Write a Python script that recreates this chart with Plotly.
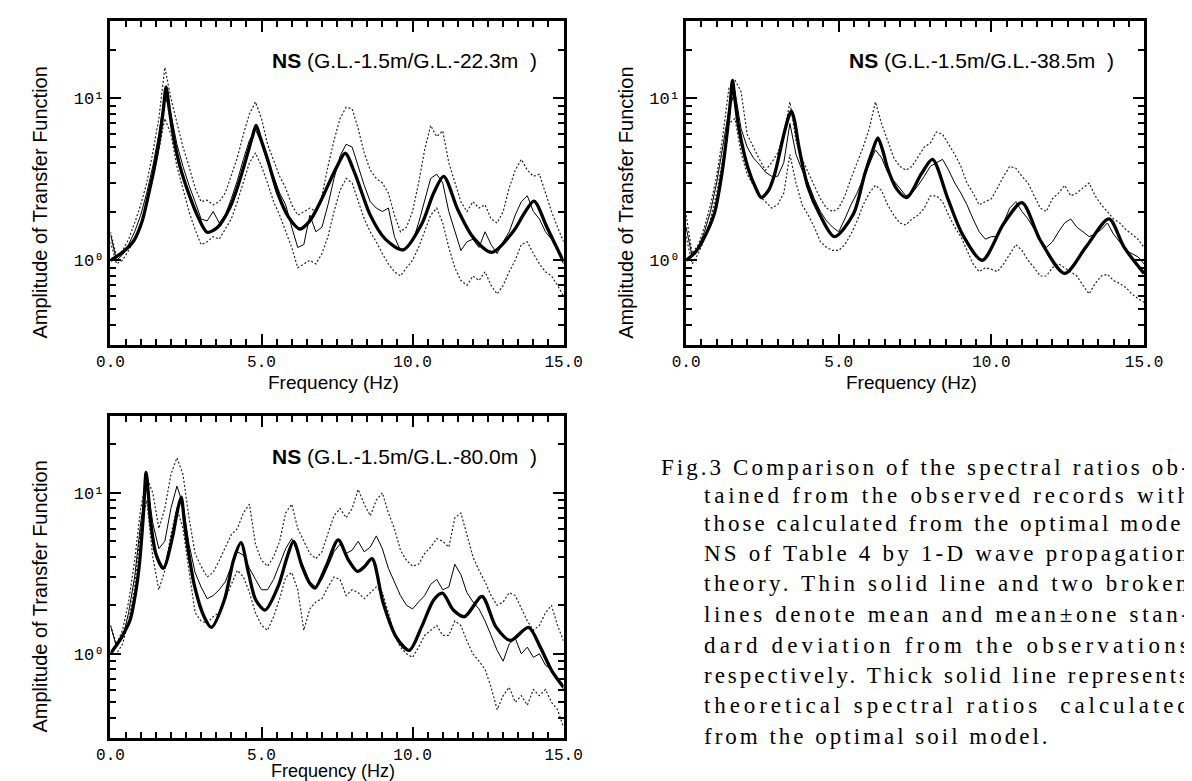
import plotly.graph_objects as go
import math

# ---------------- data ----------------
freq = [0.0, 0.2, 0.4, 0.6, 0.8, 1.0, 1.2, 1.4, 1.6, 1.8,
        2.0, 2.2, 2.4, 2.6, 2.8, 3.0, 3.2, 3.4, 3.6, 3.8,
        4.0, 4.2, 4.4, 4.6, 4.8, 5.0, 5.2, 5.4, 5.6, 5.8,
        6.0, 6.2, 6.4, 6.6, 6.8, 7.0, 7.2, 7.4, 7.6, 7.8,
        8.0, 8.2, 8.4, 8.6, 8.8, 9.0, 9.2, 9.4, 9.6, 9.8,
        10.0, 10.2, 10.4, 10.6, 10.8, 11.0, 11.2, 11.4, 11.6, 11.8,
        12.0, 12.2, 12.4, 12.6, 12.8, 13.0, 13.2, 13.4, 13.6, 13.8,
        14.0, 14.2, 14.4, 14.6, 14.8, 15.0]

# Panel 1: G.L.-1.5m / G.L.-22.3m
p1_mean = [1.45, 1.0, 1.08, 1.25, 1.5, 1.9, 2.6, 3.8, 6.0, 10.5,
           8.0, 5.2, 3.8, 2.9, 2.3, 1.8, 1.75, 2.0, 1.7, 1.9,
           2.4, 3.1, 4.2, 5.5, 6.4, 5.3, 4.0, 3.3, 2.6, 2.2,
           1.6, 1.2, 1.25, 1.9, 1.5, 1.6, 2.2, 3.2, 4.4, 5.2,
           5.0, 3.8, 2.9, 2.3, 2.1, 2.0, 2.1, 1.4, 1.15, 1.2,
           1.3, 1.7, 2.3, 3.2, 3.4, 3.0, 2.0, 1.5, 1.15, 1.3,
           1.35, 1.2, 1.5, 1.25, 1.1, 1.3, 1.5, 1.9, 2.3, 2.5,
           2.0, 1.8, 1.5, 1.35, 1.15, 0.95]
p1_hi = [1.5, 1.05, 1.15, 1.35, 1.7, 2.2, 3.0, 4.6, 7.5, 15.5,
         10.0, 7.0, 5.0, 3.8, 2.8, 2.3, 2.35, 2.2, 2.3, 2.6,
         3.3, 4.3, 6.0, 8.0, 9.5, 7.5, 5.2, 4.2, 3.3, 2.8,
         2.2, 1.9, 2.0, 2.1, 2.0, 2.5, 3.8, 5.5, 7.5, 8.8,
         8.6, 6.5, 4.6, 3.6, 3.2, 3.0, 2.6, 1.9, 1.5, 1.6,
         2.0, 3.0, 4.8, 6.8, 5.8, 6.3, 4.0, 3.0, 2.3, 2.0,
         2.3, 2.1, 2.2, 1.8, 1.7, 2.0, 2.8, 3.6, 4.2, 3.6,
         3.3, 3.4, 2.6, 2.0, 1.6, 1.3]
p1_lo = [1.3, 0.95, 1.0, 1.15, 1.35, 1.65, 2.2, 3.2, 4.8, 7.5,
         6.0, 3.8, 2.8, 2.0, 1.55, 1.25, 1.3, 1.4, 1.35, 1.55,
         1.8, 2.3, 3.0, 4.0, 4.6, 3.8, 3.0, 2.3, 1.9, 1.5,
         1.2, 0.9, 0.95, 1.0, 0.95, 1.1, 1.4, 2.0, 2.7, 3.2,
         3.0, 2.3, 1.8, 1.5, 1.3, 1.1, 0.95, 0.85, 0.8, 0.9,
         1.0, 1.2, 1.5, 1.9, 2.1, 1.7, 1.2, 0.9, 0.75, 0.7,
         0.8, 0.75, 0.85, 0.7, 0.62, 0.7, 0.85, 1.0, 1.25, 1.3,
         1.1, 0.95, 0.85, 0.8, 0.7, 0.6]
p1_theo_f = [0, 0.4, 0.77, 1.05, 1.26, 1.45, 1.6, 1.75, 1.84, 1.95,
             2.1, 2.3, 2.6, 2.9, 3.2, 3.55, 3.95, 4.25, 4.5, 4.7,
             4.82, 4.95, 5.2, 5.55, 5.9, 6.27, 6.6, 6.9, 7.2, 7.5,
             7.77, 8.1, 8.6, 9.1, 9.69, 10.3, 10.7, 11.03, 11.5, 12.0,
             12.62, 13.35, 13.7, 14.02, 14.45, 15.0]
p1_theo_a = [1.0, 1.12, 1.32, 1.75, 2.55, 3.7, 5.3, 8.5, 11.7, 8.5,
             5.6, 3.8, 2.55, 1.85, 1.49, 1.6, 2.11, 3.0, 4.3, 5.8,
             6.8, 5.8, 4.2, 2.55, 1.84, 1.56, 1.75, 2.2, 2.9, 3.8,
             4.58, 3.4, 1.9, 1.35, 1.16, 1.67, 2.6, 3.3, 2.05, 1.39,
             1.12, 1.52, 1.95, 2.32, 1.6, 0.98]

# Panel 2: G.L.-1.5m / G.L.-38.5m
p2_mean = [1.6, 1.05, 1.2, 1.5, 2.0, 3.0, 5.0, 8.5, 11.0, 6.5,
           5.0, 4.3, 3.9, 3.5, 3.3, 3.3, 4.0, 7.0, 4.5, 3.6,
           3.0, 2.4, 2.0, 1.75, 1.6, 1.5, 1.8, 2.2, 2.6, 3.2,
           3.9, 4.8, 4.3, 3.5, 3.1, 2.8, 2.5, 2.6, 2.9, 3.3,
           3.8, 4.0, 4.2, 3.6, 3.0, 2.6, 2.2, 1.8, 1.5, 1.35,
           1.4, 1.4, 1.7, 2.1, 2.3, 2.0, 1.8, 1.55, 1.35, 1.2,
           1.3, 1.5, 1.7, 1.8, 1.6, 1.5, 1.4, 1.45, 1.55, 1.7,
           1.45, 1.3, 1.15, 1.1, 1.05, 0.95]
p2_hi = [1.9, 1.1, 1.25, 1.6, 2.2, 3.3, 5.8, 11.5, 13.0, 11.0,
         6.0, 5.0, 4.2, 3.6, 4.0, 4.6, 6.0, 9.5, 5.5, 4.2,
         3.5, 2.9, 2.4, 2.1, 2.0, 2.1, 2.5, 3.2, 4.0, 5.0,
         6.5, 9.5, 7.0, 5.5, 4.3, 3.8, 3.6, 3.8, 4.4, 5.0,
         5.3, 6.2, 6.0, 5.2, 4.5, 3.8, 3.0, 2.6, 2.2, 2.3,
         2.4, 2.8, 3.3, 3.8, 3.7, 3.3, 3.0, 2.5, 2.1, 2.0,
         2.4, 2.6, 2.9, 2.5, 2.6, 2.8, 3.0, 2.5, 2.2, 2.0,
         1.8, 1.7, 1.55, 1.45, 1.35, 1.2]
p2_lo = [1.4, 0.95, 1.1, 1.35, 1.8, 2.6, 4.2, 7.0, 7.5, 4.6,
         3.4, 2.9, 2.5, 2.3, 2.1, 2.2, 2.6, 4.5, 3.0, 2.2,
         1.9, 1.6, 1.3, 1.2, 1.15, 1.15, 1.25, 1.45, 1.75, 2.2,
         2.6, 2.9, 2.7, 2.2, 1.9, 1.7, 1.65, 1.8, 1.9, 2.1,
         2.5, 2.5, 2.3, 1.9, 1.6, 1.4, 1.15, 0.95, 0.85, 0.9,
         0.88, 0.85, 0.95, 1.1, 1.25, 1.15, 1.0, 0.9, 0.8, 0.8,
         0.9, 0.95, 0.9, 0.85, 0.8, 0.7, 0.62, 0.72, 0.8, 0.82,
         0.75, 0.72, 0.68, 0.62, 0.58, 0.55]
p2_theo_f = [0, 0.3, 0.55, 0.92, 1.17, 1.36, 1.45, 1.52, 1.6, 1.73,
             2.03, 2.28, 2.46, 2.7, 2.9, 3.2, 3.35, 3.45, 3.55, 3.7,
             4.0, 4.37, 4.86, 5.48, 5.85, 6.1, 6.28, 6.45, 6.6, 6.9,
             7.23, 7.7, 8.07, 8.56, 9.05, 9.7, 10.4, 11.0, 11.6, 12.4,
             13.1, 13.85, 14.35, 15.0]
p2_theo_a = [1.0, 1.12, 1.33, 1.93, 3.4, 6.5, 9.5, 12.9, 9.8, 6.5,
             3.7, 2.8, 2.44, 2.7, 3.4, 5.96, 7.6, 8.36, 7.3, 4.94,
             2.8, 1.93, 1.4, 1.93, 3.4, 4.7, 5.7, 4.7, 3.7, 2.75,
             2.44, 3.4, 4.2, 2.44, 1.45, 1.0, 1.68, 2.27, 1.33, 0.83,
             1.21, 1.8, 1.2, 0.83]

# Panel 3: G.L.-1.5m / G.L.-80.0m
p3_mean = [1.5, 1.1, 1.25, 1.8, 3.0, 6.5, 12.0, 6.5, 4.5, 5.0,
           8.0, 11.0, 8.5, 4.8, 3.2, 2.6, 2.2, 2.3, 2.5, 2.8,
           3.5, 4.3, 4.1, 3.4, 2.9, 2.5, 2.5, 2.9, 3.6, 4.5,
           5.2, 4.2, 3.4, 2.8, 2.6, 2.9, 3.5, 4.3, 4.8, 4.2,
           4.4, 5.0, 4.3, 4.6, 5.4, 4.5, 3.4, 2.8, 2.3, 2.0,
           1.9, 2.1, 2.3, 2.7, 2.9, 2.5, 2.6, 3.6, 3.1, 2.4,
           2.1, 1.9, 1.6, 1.3, 1.05, 0.9, 1.15, 1.25, 1.0, 1.1,
           0.95, 1.0, 0.85, 0.8, 0.7, 0.6]
p3_hi = [1.5, 1.15, 1.4, 2.1, 3.8, 8.0, 12.5, 10.0, 6.0, 8.0,
         13.0, 16.5, 13.0, 7.0, 4.2, 3.5, 3.0, 3.2, 3.8, 4.6,
         5.5, 6.0, 7.5, 8.5, 4.8, 3.8, 3.5, 4.0, 5.0, 7.5,
         8.5, 6.0, 5.0, 4.2, 3.9, 4.3, 5.6, 7.2, 8.0, 7.0,
         8.0, 10.5, 8.5, 7.2, 9.0, 10.0, 7.5, 6.0, 4.4, 3.8,
         3.5, 3.6, 4.2, 4.6, 5.2, 5.0, 4.6, 7.0, 7.5, 5.5,
         4.0, 3.3, 2.8, 2.3, 2.0, 2.1, 2.4, 2.3, 1.9, 1.6,
         1.4, 1.5, 1.8, 2.0, 1.5, 1.2]
p3_lo = [1.0, 1.0, 1.15, 1.6, 2.6, 6.0, 9.0, 4.0, 2.5, 3.3,
         5.5, 8.0, 6.0, 3.2, 1.8, 1.6, 1.55, 1.7, 1.8, 2.2,
         2.7, 3.3, 3.0, 2.4, 1.8, 1.5, 1.4, 1.7, 2.2, 3.0,
         3.2, 2.5, 1.4, 1.9, 2.1, 2.2, 2.6, 3.0, 2.9, 2.3,
         2.5, 2.4, 2.2, 2.4, 2.6, 2.4, 1.8, 1.3, 1.1, 1.0,
         0.95, 1.1, 1.3, 1.4, 1.5, 1.3, 1.3, 1.6, 1.5, 1.2,
         1.0, 0.9, 0.8, 0.62, 0.45, 0.55, 0.62, 0.5, 0.55, 0.48,
         0.6, 0.55, 0.6, 0.5, 0.45, 0.35]
p3_theo_f = [0, 0.4, 0.65, 0.83, 0.95, 1.08, 1.18, 1.25, 1.32, 1.5,
             1.75, 2.06, 2.22, 2.34, 2.45, 2.55, 2.79, 3.1, 3.34, 3.77,
             4.08, 4.32, 4.57, 4.81, 5.12, 5.55, 5.85, 6.06, 6.34, 6.59,
             6.77, 7.14, 7.54, 7.87, 8.18, 8.42, 8.66, 9.03, 9.46, 9.89,
             10.3, 10.7, 10.99, 11.35, 11.72, 12.3, 12.76, 13.24, 13.84, 14.23,
             14.6, 15.0]
p3_theo_a = [1.0, 1.3, 1.62, 2.38, 3.5, 6.9, 13.4, 10.0, 6.9, 4.2,
             3.4, 5.4, 7.8, 9.4, 6.5, 4.7, 2.6, 1.7, 1.46, 2.16,
             3.85, 4.9, 3.18, 2.16, 1.87, 2.62, 4.0, 5.0, 3.5, 2.75,
             2.56, 3.5, 5.1, 3.85, 3.25, 3.5, 3.9, 2.06, 1.27, 1.05,
             1.47, 2.16, 2.38, 1.87, 1.7, 2.27, 1.47, 1.21, 1.46, 1.1,
             0.79, 0.62]

panel_titles = ["G.L.-1.5m/G.L.-22.3m", "G.L.-1.5m/G.L.-38.5m", "G.L.-1.5m/G.L.-80.0m"]
x_tick_vals = [0, 5, 10, 15]
x_tick_text = ["0.0", "5.0", "10.0", "15.0"]
y_tick_vals = [1, 10]
y_tick_text = ["10\u2070", "10\u00b9"]
x_title = "Frequency (Hz)"
y_title = "Amplitude of Transfer Function"
caption_label = "Fig.3"
caption_lines = [
    "Comparison of the spectral ratios ob-",
    "tained from the observed records with",
    "those calculated from the optimal model",
    "NS of Table 4 by 1-D wave propagation",
    "theory. Thin solid line and two broken",
    "lines denote mean and mean\u00b1one stan-",
    "dard deviation from the observations",
    "respectively. Thick solid line represents",
    "theoretical spectral ratios\u00a0 calculated",
    "from the optimal soil model.",
]

# ---------------- layout (pixels) ----------------
W, H = 1192, 781
boxes = [(91, 557, 13, 337), (683, 1154, 13, 337), (91, 557, 408, 730)]  # l, r, t, b
ytitle_x = [18, 621, 18]
xtitle_dy = [38, 38, 33]
xtitle_size = [19, 19, 18]

panels = [
    (p1_mean, p1_hi, p1_lo, p1_theo_f, p1_theo_a),
    (p2_mean, p2_hi, p2_lo, p2_theo_f, p2_theo_a),
    (p3_mean, p3_hi, p3_lo, p3_theo_f, p3_theo_a),
]

minor_x = [v / 2 for v in range(1, 30) if v % 10 != 0]
minor_y = [0.3, 0.4, 0.5, 0.6, 0.7, 0.8, 0.9, 2, 3, 4, 5, 6, 7, 8, 9, 20, 30]

tick_font = dict(family="Liberation Mono, DejaVu Sans Mono, monospace", size=16, color="black")
sans = "Liberation Sans, Arial, sans-serif"

fig = go.Figure()
annotations = []

for i, (mean, hi, lo, tf, ta) in enumerate(panels):
    n = i + 1
    xa = "x" if n == 1 else f"x{n}"
    ya = "y" if n == 1 else f"y{n}"
    for series, dash, width, col in ((hi, "2px,2px", 1.2, "#222"), (lo, "2px,2px", 1.2, "#222"),
                                     (mean, "solid", 1.0, "black")):
        fig.add_trace(go.Scatter(x=freq, y=series, mode="lines", xaxis=xa, yaxis=ya,
                                 line=dict(color=col, width=width, dash=dash),
                                 showlegend=False, hoverinfo="skip"))
    fig.add_trace(go.Scatter(x=tf, y=ta, mode="lines", xaxis=xa, yaxis=ya,
                             line=dict(color="black", width=3.3, shape="spline", smoothing=0.8),
                             showlegend=False, hoverinfo="skip"))

    l, r, t, b = boxes[i]
    axis_common = dict(showline=True, linewidth=2.5, linecolor="black", mirror="ticks",
                       ticks="inside", ticklen=11, tickwidth=2, tickcolor="black",
                       showgrid=False, zeroline=False, tickfont=tick_font, fixedrange=True)
    fig.layout[("xaxis" if n == 1 else f"xaxis{n}")] = dict(
        axis_common, domain=[l / W, r / W], anchor=ya, range=[0, 15],
        tickmode="array", tickvals=x_tick_vals, ticktext=x_tick_text,
        minor=dict(tickmode="array", tickvals=minor_x, ticks="inside", ticklen=6,
                   tickwidth=1.5, tickcolor="black", showgrid=False))
    fig.layout[("yaxis" if n == 1 else f"yaxis{n}")] = dict(
        axis_common, domain=[1 - b / H, 1 - t / H], anchor=xa, type="log",
        range=[math.log10(0.3), math.log10(30)],
        tickmode="array", tickvals=y_tick_vals, ticktext=y_tick_text,
        tickfont=dict(tick_font, size=17),
        minor=dict(tickmode="array", tickvals=minor_y, ticks="inside", ticklen=6,
                   tickwidth=1.5, tickcolor="black", showgrid=False))

    annotations.append(dict(
        xref="paper", yref="paper", x=(l + 0.352 * (r - l)) / W, y=1 - (t + 40) / H,
        xanchor="left", yanchor="middle", showarrow=False,
        text="<b>NS</b>\u00a0(" + panel_titles[i] + "\u00a0\u00a0)",
        font=dict(family=sans, size=21, color="black")))
    annotations.append(dict(
        xref="paper", yref="paper", x=((l + r) / 2 - 4) / W, y=1 - (b + xtitle_dy[i]) / H,
        xanchor="center", yanchor="middle", showarrow=False, text=x_title,
        font=dict(family=sans, size=xtitle_size[i], color="black")))
    annotations.append(dict(
        xref="paper", yref="paper", x=ytitle_x[i] / W, y=1 - ((t + b) / 2 + 20) / H,
        xanchor="center", yanchor="middle", showarrow=False, text=y_title, textangle=-90,
        font=dict(family=sans, size=20, color="black")))

# ---------------- caption (justified by letter spacing) ----------------
CAP_SIZE = 23
BASE_LS = 3.0
RIGHT = 1188
TIMES_W = {' ': 250, '\u00a0': 250, '.': 250, ',': 250, '-': 333, '\u00b1': 564,
           'C': 667, 'D': 722, 'F': 556, 'N': 722, 'S': 556, 'T': 611,
           'a': 444, 'b': 500, 'c': 444, 'd': 500, 'e': 444, 'f': 333, 'g': 500, 'h': 500,
           'i': 278, 'j': 278, 'k': 500, 'l': 278, 'm': 778, 'n': 500, 'o': 500, 'p': 500,
           'q': 500, 'r': 333, 's': 389, 't': 278, 'u': 500, 'v': 500, 'w': 722, 'x': 500,
           'y': 500, 'z': 444}


def natural_width(s):
    return sum(TIMES_W.get(ch, 500) for ch in s) * CAP_SIZE / 1000.0


cap_font = dict(family="Liberation Serif, Times New Roman, serif", size=CAP_SIZE, color="black")
cap_y = [459, 487, 515, 545, 575, 606, 637, 667, 697, 728]


def styled(s, ls):
    return f'<span style="letter-spacing:{ls:.2f}px">' + s + "</span>"


annotations.append(dict(
    xref="paper", yref="paper", x=655 / W, y=1 - cap_y[0] / H, xanchor="left", yanchor="middle",
    showarrow=False, text=styled(caption_label, BASE_LS), font=cap_font))
for k, line in enumerate(caption_lines):
    x0 = 729 if k == 0 else 699
    if k < len(caption_lines) - 1:
        ls = (RIGHT - x0 - natural_width(line)) / len(line)
    else:
        ls = BASE_LS
    annotations.append(dict(
        xref="paper", yref="paper", x=x0 / W, y=1 - cap_y[k] / H, xanchor="left",
        yanchor="middle", showarrow=False, text=styled(line, ls), font=cap_font))

fig.update_layout(width=W, height=H, margin=dict(l=0, r=0, t=0, b=0),
                  paper_bgcolor="white", plot_bgcolor="white", annotations=annotations,
                  showlegend=False)

fig.write_html("out.html")
